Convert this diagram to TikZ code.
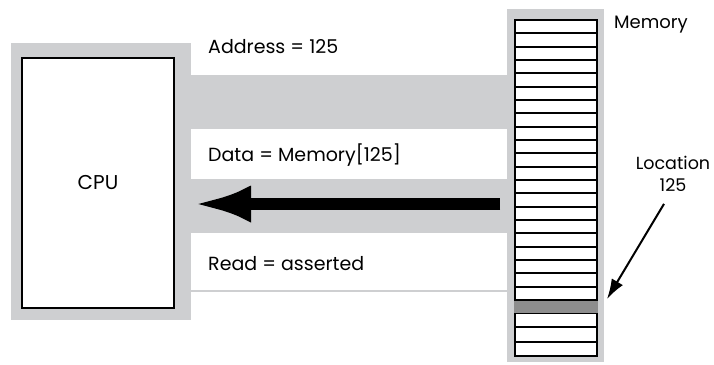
\documentclass[tikz,border=0pt]{standalone}
\usepackage{fontspec}
\setmainfont{Poppins}
\usetikzlibrary{arrows.meta,positioning}
\definecolor{busgray}{RGB}{206,207,209}
\definecolor{cellgray}{RGB}{141,141,141}
\tikzset{
    %Define style for the gray panels and bus lines
    panel/.style={fill=busgray, draw=none},
    %Define style for the CPU box
    unit/.style={
           rectangle,
           draw=black, line width=1.8pt,
           fill=white,
           font=\fontsize{20}{22}\selectfont},
    %Define style for one memory cell
    cell/.style={draw=black, line width=1.8pt, fill=white},
    %Define style for text labels
    lbl/.style={font=\fontsize{19}{22}\selectfont, inner sep=0pt},
    % Define arrow styles
    bigpil/.style={-{Latex[length=58pt,width=37pt]}, line width=12pt},
    pil/.style={-{Latex[length=20pt,width=13pt]}, line width=2pt}
}
\begin{document}
\begin{tikzpicture}[x=1pt, y=-1pt]
 \useasboundingbox (0,0) rectangle (714,364);
 %panels
 \fill[panel] (11,43) rectangle (191,320);
 \fill[panel] (191,75) rectangle (507,129);
 \fill[panel] (191,179) rectangle (507,233);
 \fill[panel] (191,290) rectangle (507,292);
 \fill[panel] (507,9) rectangle (604,362);
 %cpu
 \node[unit, minimum width=152pt, minimum height=250pt] (cpu) at (98,183) {CPU};
 %bus labels
 \node[lbl, anchor=west] (addr) at (208,47) {Address = 125};
 \node[lbl, anchor=west] (data) at (208,155) {Data = Memory[125]};
 \node[lbl, anchor=west] (read) at (208,264) {Read = asserted};
 %memory cells
 \foreach \i in {0,...,20}
   \draw[cell] (515,20+\i*13.33) rectangle ++(82,13.33);
 \foreach \i in {0,1,2}
   \draw[cell] (515,313+\i*14.33) rectangle ++(82,14.33);
 \fill[cellgray] (514,300.5) rectangle (598,313) coordinate (hit);
 \node[lbl, anchor=west, font=\fontsize{18}{22}\selectfont] (mem) at (614,25) {Memory};
 \node[lbl, align=center, font=\fontsize{17.5}{22}\selectfont] (loc) at (673,174) {Location\\125};
 % arrows
 \coordinate (busout) at (500,204);
 \coordinate (busin) at (193,204);
 \coordinate (cell125) at (607,299);
 \draw[bigpil] (busout) -- (busin);
 \draw[pil] ([xshift=-9pt,yshift=-12pt]loc.south) -- (cell125);
\end{tikzpicture}
\end{document}
